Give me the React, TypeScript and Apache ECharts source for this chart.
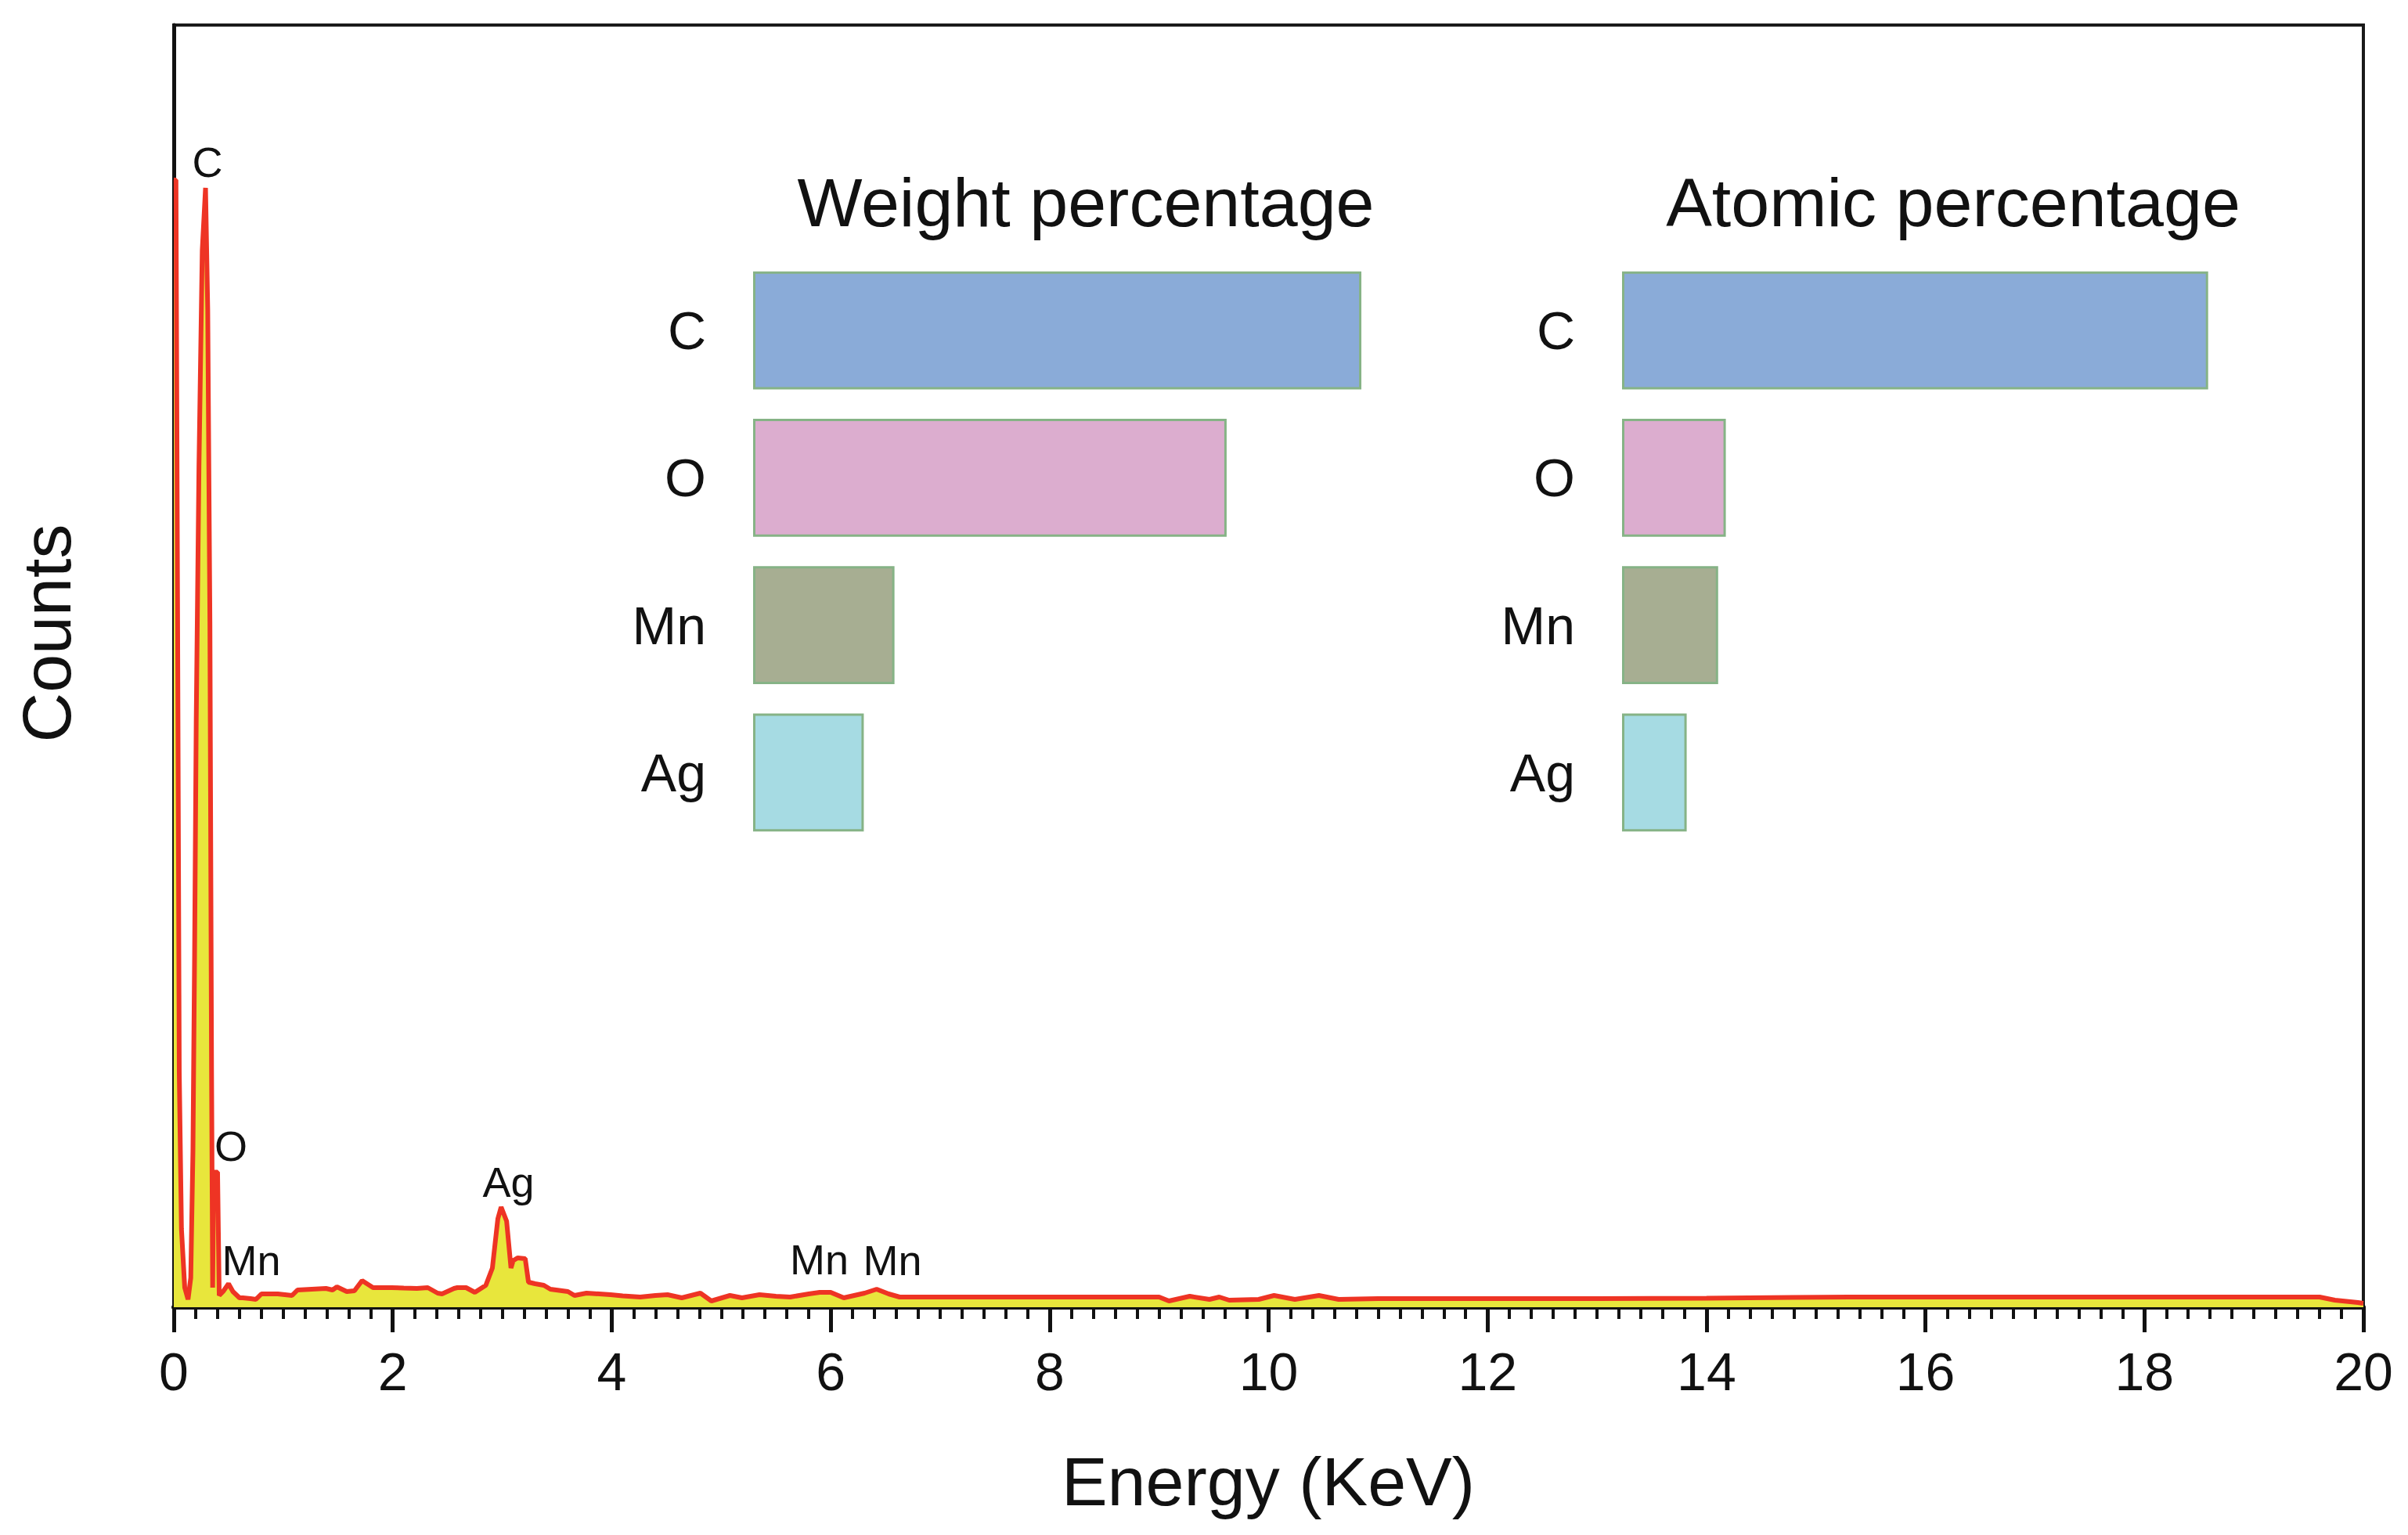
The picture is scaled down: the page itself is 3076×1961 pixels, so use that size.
import React, { useRef, useEffect } from 'react'
import * as echarts from 'echarts'

// EDS spectrum (energy in keV, counts in arbitrary units)
const energy = [
  0, 0.02, 0.035, 0.05, 0.07, 0.1, 0.13, 0.155, 0.175, 0.19, 0.205, 0.23, 0.26, 0.29, 0.31, 0.33,
  0.345, 0.355, 0.365, 0.4, 0.415, 0.45, 0.5, 0.54, 0.6, 0.63, 0.7, 0.75, 0.8, 0.95, 1.08, 1.13, 1.39,
  1.45, 1.49, 1.58, 1.65, 1.72, 1.82, 1.99, 2.1, 2.22, 2.32, 2.41, 2.45, 2.56, 2.59, 2.67, 2.75, 2.85,
  2.91, 2.96, 2.99, 3.04, 3.08, 3.1, 3.14, 3.21, 3.24, 3.3, 3.38, 3.44, 3.6, 3.66, 3.77, 3.99, 4.1, 4.26,
  4.4, 4.51, 4.64, 4.81, 4.91, 5.08, 5.19, 5.35, 5.5, 5.63, 5.8, 5.9, 6.0, 6.12, 6.31, 6.42, 6.53, 6.63,
  7.0, 8.0, 9.0, 9.09, 9.28, 9.46, 9.55, 9.64, 9.91, 10.05, 10.24, 10.46, 10.64, 11, 12, 13, 14, 15.3,
  17, 19.6, 19.74, 19.95, 20,
]
const counts = [
  5760, 5760, 3500, 1200, 400, 100, 40, 150, 800, 1800, 3000, 4300, 5400, 5720, 5100, 3500,
  1200, 100, 690, 690, 60, 80, 120, 80, 48, 48, 44, 40, 68, 68, 60, 88, 96,
  88, 104, 80, 84, 136, 100, 100, 98, 96, 100, 72, 68, 96, 100, 100, 76, 112,
  200, 452, 512, 440, 200, 238, 252, 248, 128, 120, 112, 92, 80, 60, 72, 64, 58, 52,
  60, 64, 48, 72, 32, 60, 48, 64, 56, 52, 68, 76, 76, 48, 72, 92, 68, 52,
  52, 52, 52, 32, 56, 40, 52, 36, 40, 60, 40, 60, 40, 44, 44, 44, 46, 52,
  52, 52, 36, 24, 20,
]

// peak annotations: element, energy, count level of the label
const peakNames = ['C', 'O', 'Mn', 'Ag', 'Mn', 'Mn']
const peakEnergy = [0.307, 0.522, 0.708, 3.057, 5.896, 6.564]
const peakLevel = [5854, 824, 240, 640, 244, 240]

// inset bar charts
const elements = ['C', 'O', 'Mn', 'Ag']
const weightPct = [45.6, 35.5, 10.6, 8.3]
const atomicPct = [68.9, 12.2, 11.3, 7.6]
const barColors = ['#8aabd8', '#dcadcf', '#a7ae92', '#a6dbe3']

const xTicks = { min: 0, max: 20, interval: 2 }
const countsMax = 6552

const FONT = '"Liberation Sans", Arial, Helvetica, sans-serif'

function App() {
  const chartRef = useRef(null)

  useEffect(() => {
    const chart = echarts.init(chartRef.current, null, { renderer: 'svg' })

    const barSeries = (values, idx) => ({
      type: 'bar',
      xAxisIndex: idx,
      yAxisIndex: idx,
      barWidth: '80%',
      data: values.map((v, i) => ({
        value: v,
        itemStyle: { color: barColors[i] },
      })),
      itemStyle: { borderColor: '#86b386', borderWidth: 3 },
    })

    const catAxis = (idx) => ({
      type: 'category',
      gridIndex: idx,
      data: elements,
      inverse: true,
      axisLine: { show: false },
      axisTick: { show: false },
      axisLabel: { fontSize: 68, color: '#111', margin: 60, fontFamily: FONT },
    })

    const valAxis = (idx, max) => ({
      type: 'value',
      gridIndex: idx,
      min: 0,
      max,
      show: false,
    })

    const title = (text, x, y, rotation = 0) => ({
      type: 'text',
      x,
      y,
      rotation,
      style: { text, fontSize: 88, fontFamily: FONT, fill: '#111', align: 'center', verticalAlign: 'middle' },
    })

    const option = {
      animation: false,
      backgroundColor: '#fff',
      textStyle: { fontFamily: FONT },
      grid: [
        {
          left: 222, top: 32, right: 57, bottom: 291,
          show: true, borderColor: '#1a1a1a', borderWidth: 4,
        },
        { left: 962, top: 328, width: 852, height: 753 },
        { left: 2072, top: 328, width: 815, height: 753 },
      ],
      xAxis: [
        {
          type: 'value',
          gridIndex: 0,
          ...xTicks,
          axisLine: { show: true, lineStyle: { color: '#111', width: 6 } },
          axisTick: { show: true, inside: false, length: 32, lineStyle: { color: '#111', width: 5 } },
          minorTick: { show: true, splitNumber: 10, length: 15, lineStyle: { color: '#111', width: 4 } },
          axisLabel: { fontSize: 68, color: '#111', margin: 48, fontFamily: FONT },
          splitLine: { show: false },
        },
        valAxis(1, 50),
        valAxis(2, 75),
      ],
      yAxis: [
        {
          type: 'value',
          gridIndex: 0,
          min: 0,
          max: countsMax,
          axisLine: { show: true, lineStyle: { color: '#111', width: 5 } },
          axisTick: { show: false },
          axisLabel: { show: false },
          splitLine: { show: false },
        },
        catAxis(1),
        catAxis(2),
      ],
      graphic: [
        title('Weight percentage', 1387, 258),
        title('Atomic percentage', 2495, 258),
        title('Energy (KeV)', 1620, 1892),
        title('Counts', 59, 809, Math.PI / 2),
      ],
      series: [
        {
          type: 'line',
          xAxisIndex: 0,
          yAxisIndex: 0,
          data: energy.map((e, i) => [e, counts[i]]),
          showSymbol: false,
          symbol: 'none',
          lineStyle: { color: '#ee3424', width: 6 },
          areaStyle: { color: '#e8e63c', opacity: 1 },
          z: 3,
        },
        {
          type: 'scatter',
          xAxisIndex: 0,
          yAxisIndex: 0,
          symbolSize: 0.1,
          itemStyle: { color: 'rgba(0,0,0,0)' },
          data: peakNames.map((n, i) => ({ name: n, value: [peakEnergy[i], peakLevel[i]] })),
          label: {
            show: true,
            position: 'inside',
            formatter: '{b}',
            fontSize: 54,
            color: '#111',
            opacity: 1,
            textBorderWidth: 0,
            fontFamily: FONT,
          },
          emphasis: { disabled: true },
          z: 4,
        },
        barSeries(weightPct, 1),
        barSeries(atomicPct, 2),
      ],
    }

    chart.setOption(option)

    return () => {
      chart.dispose()
    }
  }, [])

  return (
    <div
      ref={chartRef}
      style={{ position: 'fixed', left: 0, top: 0, width: '100vw', height: '100vh', background: '#fff' }}
    ></div>
  )
}

export default App
